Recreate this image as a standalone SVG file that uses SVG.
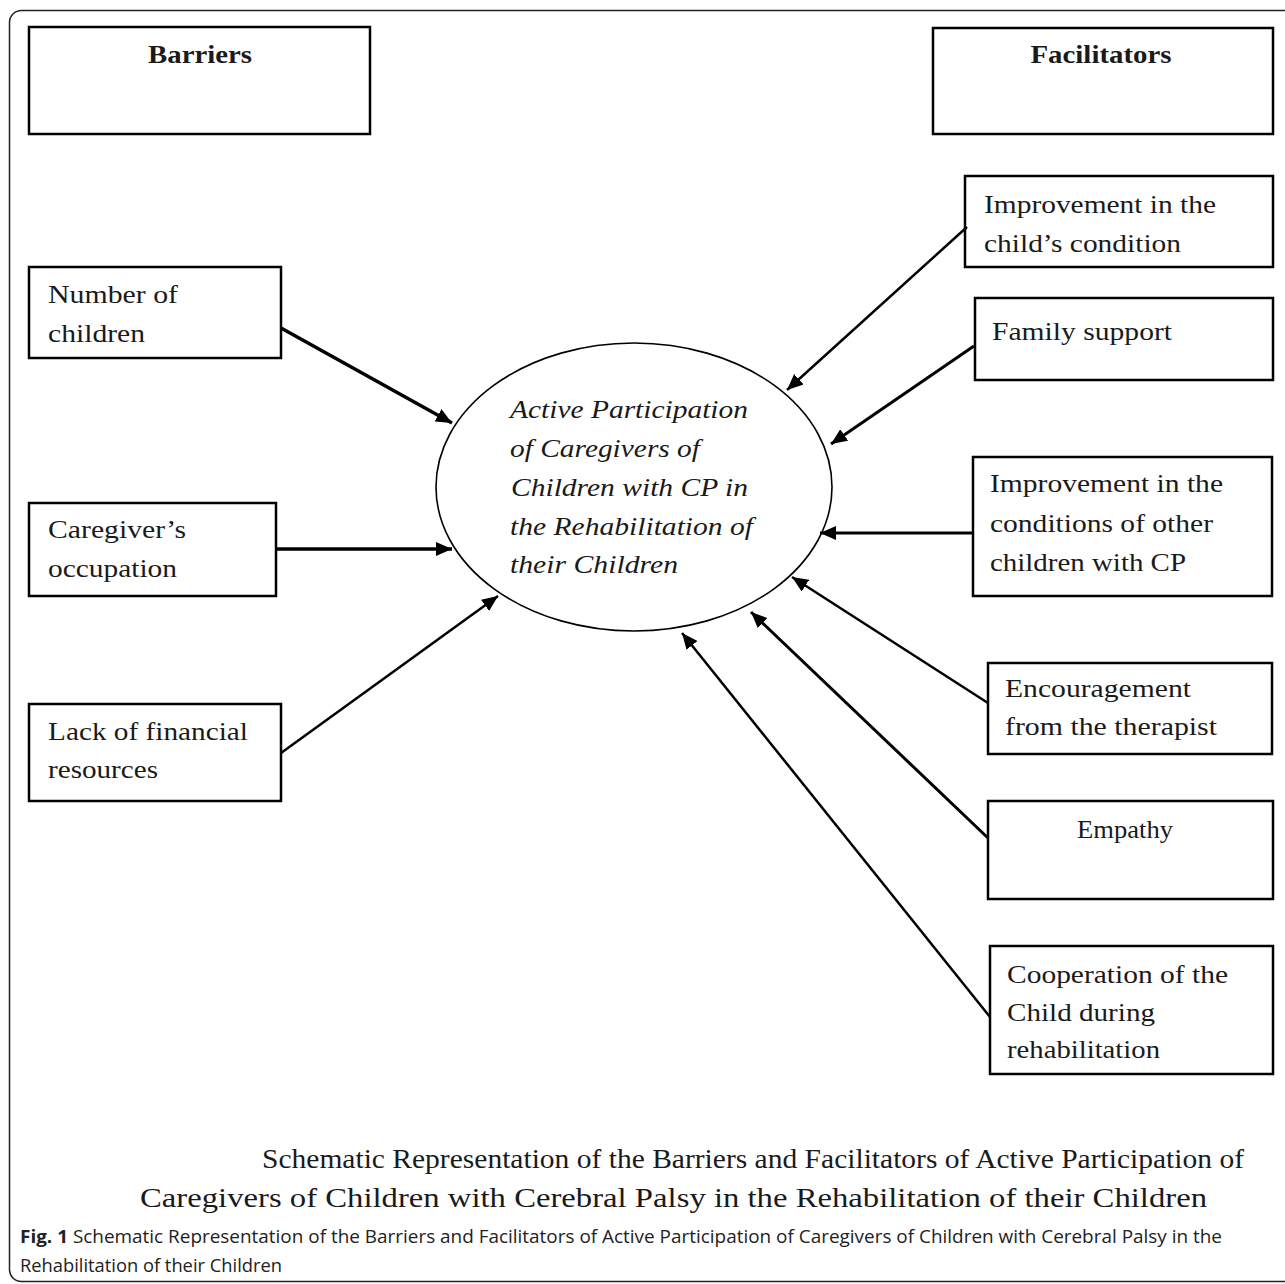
<svg xmlns="http://www.w3.org/2000/svg" width="1285" height="1284" viewBox="0 0 1285 1284">
<defs>
<style>
.box{fill:#fff;stroke:#000;stroke-width:2.5}
.t{font-family:"Liberation Serif","Times New Roman",serif;font-size:25px;fill:#1a1a1a}
.h{font-family:"Liberation Serif","Times New Roman",serif;font-size:25px;font-weight:bold;fill:#1a1a1a}
.it{font-family:"Liberation Serif","Times New Roman",serif;font-size:26px;font-style:italic;fill:#1a1a1a}
.cap{font-family:"Liberation Serif","Times New Roman",serif;font-size:27px;fill:#1a1a1a}
.fig{font-family:"Open Sans","Noto Sans",sans-serif;font-size:18px;fill:#222}
.c{fill:none;stroke:#000;marker-end:url(#ah)}
</style>
<marker id="ah" markerUnits="userSpaceOnUse" markerWidth="17" markerHeight="15" refX="16" refY="7" orient="auto">
<path d="M0,0 L16,7 L0,14 z" fill="#000"/>
</marker>
</defs>
<rect x="0" y="0" width="1285" height="1284" fill="#fff"/>
<rect x="9.5" y="10.5" width="1310" height="1271" rx="12" fill="none" stroke="#222" stroke-width="1.5"/>

<g id="barriers">
<rect class="box" x="29" y="27" width="341" height="107"/>
<text class="h" x="200" y="63" text-anchor="middle" textLength="104" lengthAdjust="spacingAndGlyphs">Barriers</text>
</g>
<g id="facilitators">
<rect class="box" x="933" y="28" width="340" height="106"/>
<text class="h" x="1101" y="63" text-anchor="middle" textLength="141" lengthAdjust="spacingAndGlyphs">Facilitators</text>
</g>

<g id="number-of-children">
<rect class="box" x="29" y="267" width="252" height="91"/>
<text class="t" x="48" y="303" textLength="130" lengthAdjust="spacingAndGlyphs">Number of</text>
<text class="t" x="48" y="342" textLength="97" lengthAdjust="spacingAndGlyphs">children</text>
</g>
<g id="caregivers-occupation">
<rect class="box" x="29" y="503" width="247" height="93"/>
<text class="t" x="48" y="538" textLength="138" lengthAdjust="spacingAndGlyphs">Caregiver’s</text>
<text class="t" x="48" y="577" textLength="129" lengthAdjust="spacingAndGlyphs">occupation</text>
</g>
<g id="lack-of-financial-resources">
<rect class="box" x="29" y="704" width="252" height="97"/>
<text class="t" x="48" y="740" textLength="200" lengthAdjust="spacingAndGlyphs">Lack of financial</text>
<text class="t" x="48" y="778" textLength="110" lengthAdjust="spacingAndGlyphs">resources</text>
</g>

<g id="active-participation">
<ellipse cx="634" cy="487" rx="198" ry="144" fill="#fff" stroke="#000" stroke-width="1.6"/>
<text class="it" x="510" y="418" textLength="238" lengthAdjust="spacingAndGlyphs">Active Participation</text>
<text class="it" x="510" y="457" textLength="190" lengthAdjust="spacingAndGlyphs">of Caregivers of</text>
<text class="it" x="511" y="496" textLength="237" lengthAdjust="spacingAndGlyphs">Children with CP in</text>
<text class="it" x="510" y="535" textLength="243" lengthAdjust="spacingAndGlyphs">the Rehabilitation of</text>
<text class="it" x="510" y="573" textLength="168" lengthAdjust="spacingAndGlyphs">their Children</text>
</g>

<g id="improvement-child">
<rect class="box" x="965" y="176" width="308" height="91"/>
<text class="t" x="984" y="213" textLength="232" lengthAdjust="spacingAndGlyphs">Improvement in the</text>
<text class="t" x="984" y="252" textLength="197" lengthAdjust="spacingAndGlyphs">child’s condition</text>
</g>
<g id="family-support">
<rect class="box" x="975" y="298" width="298" height="82"/>
<text class="t" x="992" y="340" textLength="180" lengthAdjust="spacingAndGlyphs">Family support</text>
</g>
<g id="improvement-others">
<rect class="box" x="973" y="457" width="299" height="139"/>
<text class="t" x="990" y="492" textLength="233" lengthAdjust="spacingAndGlyphs">Improvement in the</text>
<text class="t" x="990" y="532" textLength="223" lengthAdjust="spacingAndGlyphs">conditions of other</text>
<text class="t" x="990" y="571" textLength="196" lengthAdjust="spacingAndGlyphs">children with CP</text>
</g>
<g id="encouragement">
<rect class="box" x="988" y="663" width="284" height="91"/>
<text class="t" x="1005" y="697" textLength="186" lengthAdjust="spacingAndGlyphs">Encouragement</text>
<text class="t" x="1005" y="735" textLength="212" lengthAdjust="spacingAndGlyphs">from the therapist</text>
</g>
<g id="empathy">
<rect class="box" x="988" y="801" width="285" height="98"/>
<text class="t" x="1077" y="838" textLength="96" lengthAdjust="spacingAndGlyphs">Empathy</text>
</g>
<g id="cooperation">
<rect class="box" x="990" y="946" width="283" height="128"/>
<text class="t" x="1007" y="983" textLength="221" lengthAdjust="spacingAndGlyphs">Cooperation of the</text>
<text class="t" x="1007" y="1021" textLength="148" lengthAdjust="spacingAndGlyphs">Child during</text>
<text class="t" x="1007" y="1058" textLength="153" lengthAdjust="spacingAndGlyphs">rehabilitation</text>
</g>

<g id="connectors">
<line class="c" x1="281" y1="328" x2="452" y2="423" stroke-width="3.5"/>
<line class="c" x1="277" y1="549" x2="452" y2="549" stroke-width="3.5"/>
<line class="c" x1="281" y1="753" x2="498" y2="596" stroke-width="2.5"/>
<line class="c" x1="967" y1="227" x2="787" y2="390" stroke-width="2.5"/>
<line class="c" x1="974" y1="346" x2="831" y2="444" stroke-width="3"/>
<line class="c" x1="973" y1="533" x2="820" y2="533" stroke-width="3"/>
<line class="c" x1="988" y1="703" x2="792" y2="577" stroke-width="2.5"/>
<line class="c" x1="988" y1="838" x2="751" y2="612" stroke-width="3"/>
<line class="c" x1="990" y1="1017" x2="682" y2="633" stroke-width="2.5"/>
</g>

<g id="caption">
<text class="cap" x="262" y="1168" textLength="982" lengthAdjust="spacingAndGlyphs">Schematic Representation of the Barriers and Facilitators of Active Participation of</text>
<text class="cap" x="140" y="1207" textLength="1067" lengthAdjust="spacingAndGlyphs">Caregivers of Children with Cerebral Palsy in the Rehabilitation of their Children</text>
<text class="fig" x="20" y="1243" textLength="1202" lengthAdjust="spacingAndGlyphs"><tspan font-weight="bold">Fig. 1</tspan> Schematic Representation of the Barriers and Facilitators of Active Participation of Caregivers of Children with Cerebral Palsy in the</text>
<text class="fig" x="20" y="1272" textLength="262" lengthAdjust="spacingAndGlyphs">Rehabilitation of their Children</text>
</g>
</svg>
